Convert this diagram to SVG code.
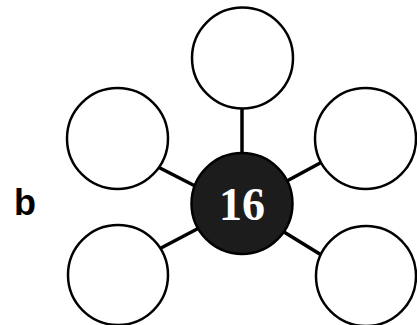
<svg xmlns="http://www.w3.org/2000/svg" width="417" height="325" viewBox="0 0 417 325">
<style>
.c{fill:#fff;stroke:#000;stroke-width:2.5}
.hub{fill:#1c1c1c;stroke:#000;stroke-width:2.5}
.ln{stroke:#000;stroke-width:3.5;fill:none}
.num{font-family:"Liberation Serif",serif;font-weight:bold;font-size:46px;fill:#fff;text-anchor:middle}
.lbl{font-family:"Liberation Sans",sans-serif;font-weight:bold;font-size:36px;fill:#000}
</style>
<rect width="417" height="325" fill="#fff"/>
<g id="connectors">
<line class="ln" x1="242" y1="108" x2="242" y2="156"/>
<line class="ln" x1="158" y1="167" x2="199" y2="188"/>
<line class="ln" x1="285" y1="182" x2="322" y2="162"/>
<line class="ln" x1="161" y1="248" x2="199" y2="228"/>
<line class="ln" x1="284" y1="232" x2="323" y2="256"/>
</g>
<g id="node-top"><circle class="c" cx="242.5" cy="58" r="50.5"/></g>
<g id="node-upper-left"><circle class="c" cx="117.5" cy="138.5" r="50.5"/></g>
<g id="node-upper-right"><circle class="c" cx="365.5" cy="138.5" r="50.5"/></g>
<g id="node-lower-left"><circle class="c" cx="118" cy="275" r="50"/></g>
<g id="node-lower-right"><circle class="c" cx="366" cy="276" r="50"/></g>
<g id="node-center">
<circle class="hub" cx="242" cy="203.5" r="50.5"/>
<text class="num" x="242" y="220">16</text>
</g>
<g id="label-b"><text class="lbl" x="14" y="215">b</text></g>
</svg>
